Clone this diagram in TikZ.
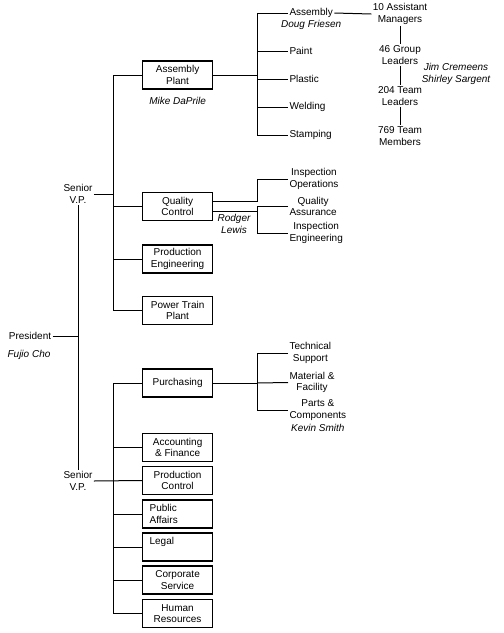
\documentclass[tikz,border=0pt]{standalone}
\usepackage{fontspec}
\setmainfont{Liberation Sans}
\usetikzlibrary{positioning}

\begin{document}
\fontsize{10}{11.5}\selectfont
\begin{tikzpicture}[x=1pt,y=-1pt,line width=1pt,node distance=6pt]
  \tikzstyle{every node}=[inner sep=1pt,font=\fontsize{10}{11.5}\selectfont]
  \tikzstyle{dept}=[draw,line width=1.2pt,align=center,minimum width=70pt,minimum height=28pt,anchor=west]
  \tikzstyle{unit}=[align=center,anchor=west]
  \tikzstyle{who}=[align=center,font=\fontsize{10}{11.5}\selectfont\itshape]

  \useasboundingbox (0,0) rectangle (504,633);

  \node (pres) at (30,336) {President};
  \node[who] (fujio) at (29,355) {Fujio Cho};
  \node[align=center] (svp1) at (78,194) {Senior\\V.P.};
  \node[align=center] (svp2) at (78,481) {Senior\\V.P.};

  \node[dept] (ap) at (142,75) {Assembly\\Plant};
  \node[who] (mike) [below=of ap] {Mike DaPrile};
  \node[dept] (qc) at (142,206.5) {Quality\\Control};
  \node[dept] (pe) at (142,259) {Production\\Engineering};
  \node[dept] (pt) at (142,310.5) {Power Train\\Plant};

  \node[dept] (pur) at (142,383) {Purchasing};
  \node[dept] (af) at (142,447.5) {Accounting\\\& Finance};
  \node[dept] (pc) at (142,480.5) {Production\\Control};
  \node[dept,align=left,text width=56pt] (pa) at (142,514) {Public\\Affairs};
  \node[dept,align=left,text width=56pt] (lg) at (142,547) {Legal\\~};
  \node[dept] (cs) at (142,580) {Corporate\\Service};
  \node[dept] (hr) at (142,613.5) {Human\\Resources};

  \node[unit] (asm) at (288,13) {Assembly};
  \node[who] (doug) [below=0pt of asm] {Doug Friesen};
  \node[unit] (pnt) at (288,51) {Paint};
  \node[unit] (pls) at (288,79) {Plastic};
  \node[unit] (wld) at (288,107) {Welding};
  \node[unit] (stp) at (288,135) {Stamping};

  \node[align=center] (mgr) at (400,14) {10 Assistant\\Managers};
  \node[align=center] (grp) at (400,55) {46 Group\\Leaders};
  \node[align=center] (tl) at (400,96) {204 Team\\Leaders};
  \node[align=center] (tm) at (400,136) {769 Team\\Members};
  \node[who] (jim) at (456,74) {Jim Cremeens\\Shirley Sargent};

  \node[unit] (io) at (288,179) {Inspection\\Operations};
  \node[unit] (qa) at (288,206.5) {Quality\\Assurance};
  \node[unit] (ie) at (288,233) {Inspection\\Engineering};
  \node[who] (rodger) at (234,224) {Rodger\\Lewis};

  \node[unit] (ts) at (288,353) {Technical\\Support};
  \node[unit] (mf) at (288,382.5) {Material \&\\Facility};
  \node[unit] (pcm) at (288,410) {Parts \&\\Components};
  \node[who] (kevin) [below=1pt of pcm] {Kevin Smith};

  \coordinate (ut) at (113,75);
  \coordinate (ub) at (113,310.5);
  \coordinate (lt) at (113,383);
  \coordinate (lb) at (113,613.5);
  \coordinate (aj) at (257,13);
  \coordinate (qj) at (257,206);
  \coordinate (pj) at (257,383);

  % president and the two senior v.p.
  \draw (pres.east) -- (pres.east -| svp1.south);
  \draw (svp1.south) -- (svp2.north);
  \draw (svp1.east) -- (svp1.east -| ut);
  \draw (svp2.east) -- (pc.west);

  % upper and lower brackets
  \draw (ut) -- (ub);
  \foreach \b in {ap,qc,pe,pt} \draw (\b.west -| ut) -- (\b.west);
  \draw (lt) -- (lb);
  \foreach \b in {pur,af,pa,lg,cs,hr} \draw (\b.west -| lt) -- (\b.west);

  % assembly plant
  \draw (ap.east) -- (ap.east -| aj);
  \draw (aj) -- (aj |- stp.west);
  \foreach \s in {asm,pnt,pls,wld,stp} \draw (\s.west -| aj) -- (\s.west);
  \draw (asm.east) -- (mgr.west);
  \draw (mgr) -- (grp) -- (tl) -- (tm);

  % quality control
  \draw ([yshift=5pt]qc.east) -| (io.west -| qj) -- (io.west);
  \draw ([yshift=-5pt]qc.east) -- ([yshift=-5pt]qc.east -| qj);
  \draw (qa.west) -| (qj |- ie.west) -- (ie.west);

  % purchasing
  \draw (pur.east) -- (pj);
  \draw (ts.west) -| (pj |- pcm.west) -- (pcm.west);
  \draw (pj) -- (mf.west);
\end{tikzpicture}
\end{document}
